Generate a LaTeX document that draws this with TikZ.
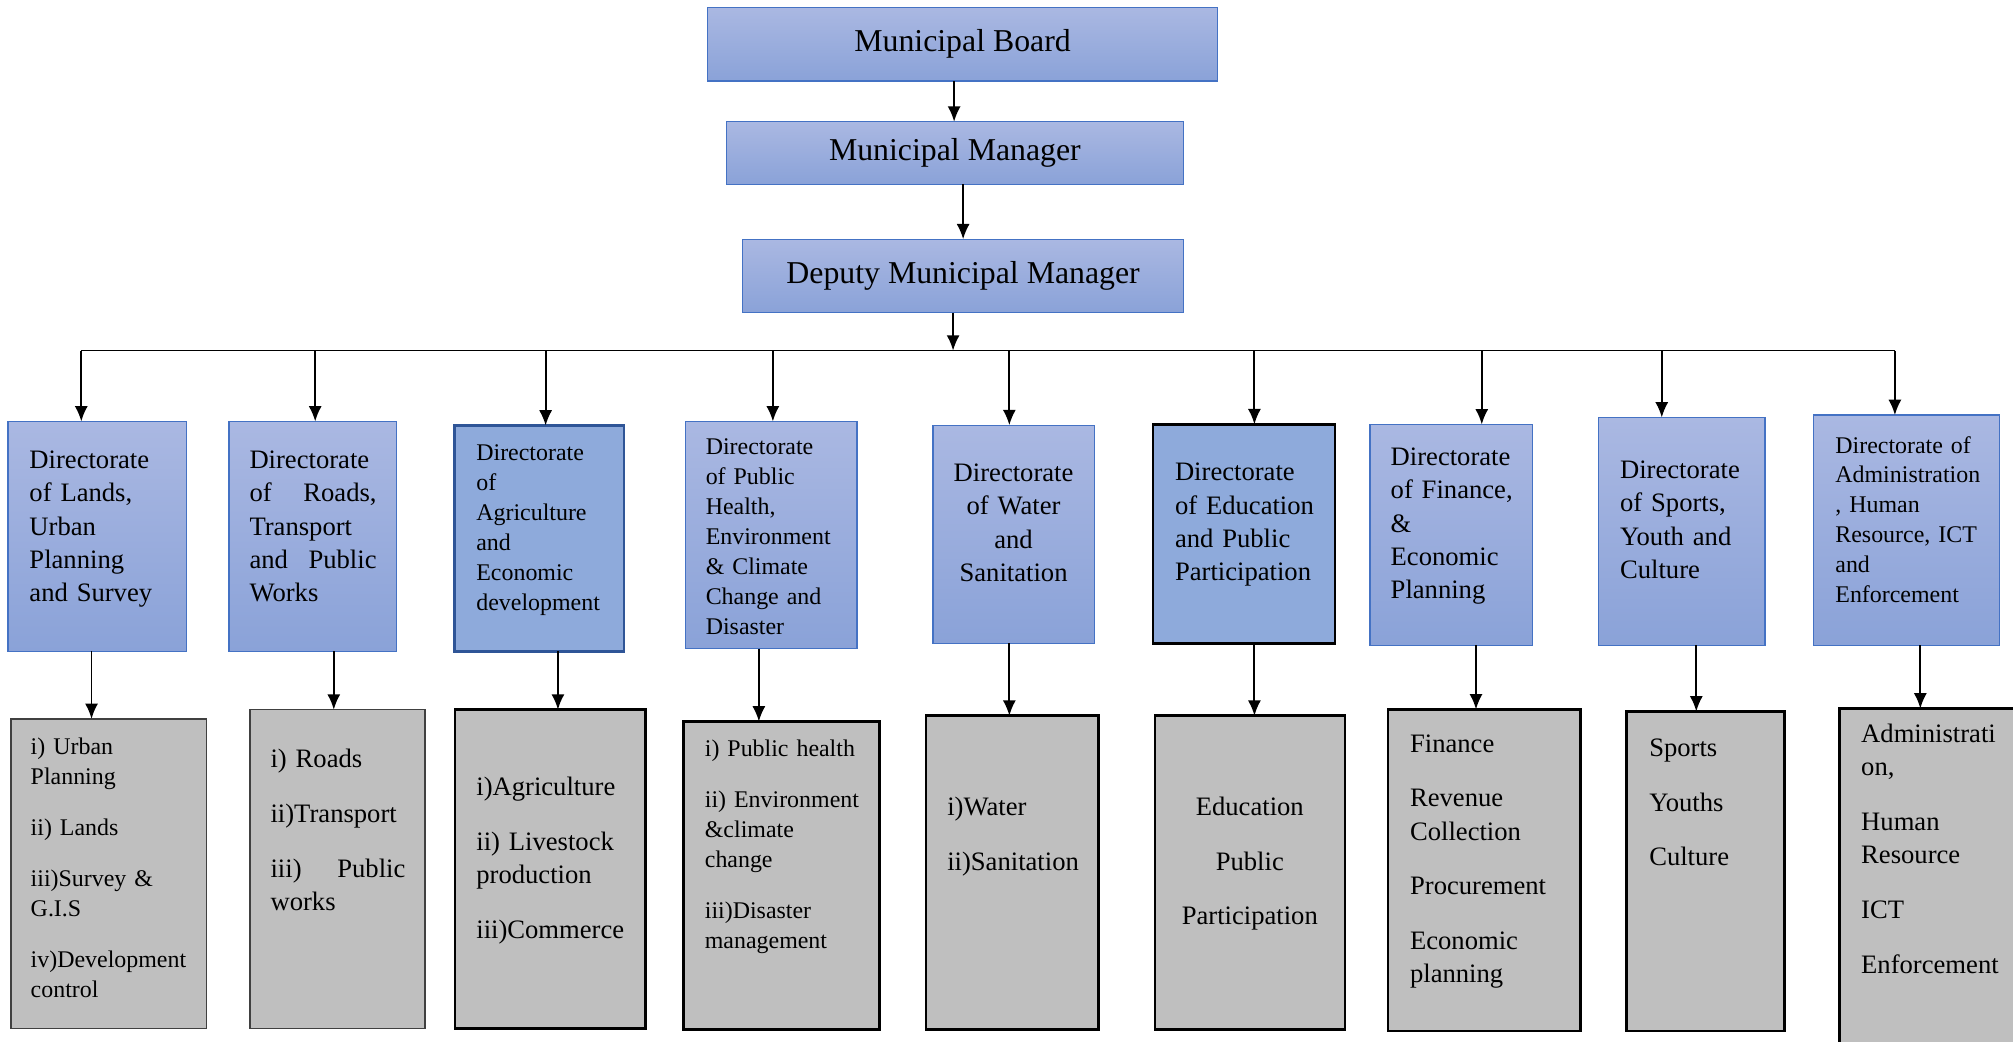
\documentclass[tikz,border=0pt]{standalone}
\usepackage{fontspec}
\setmainfont{Liberation Serif}
\usepackage{tikz}
\usetikzlibrary{arrows.meta}
\definecolor{dirtop}{HTML}{AAB8E2}
\definecolor{dirbot}{HTML}{8AA2D8}
\definecolor{dirline}{HTML}{4472C4}
\definecolor{dirflat}{HTML}{8EAADB}
\definecolor{navyline}{HTML}{2F5597}
\definecolor{subfill}{HTML}{BFBFBF}
\definecolor{subline}{HTML}{404040}
\tikzset{
	dirbox/.style={shape=rectangle, inner sep=0pt, outer sep=0pt, top color=dirtop, bottom color=dirbot, draw=dirline, line width=0.6pt},
	agribox/.style={shape=rectangle, inner sep=0pt, outer sep=0pt, fill=dirflat, draw=navyline, line width=1pt},
	edubox/.style={shape=rectangle, inner sep=0pt, outer sep=0pt, fill=dirflat, draw=black, line width=1.1pt},
	subbox/.style={shape=rectangle, inner sep=0pt, outer sep=0pt, fill=subfill, draw=black, line width=1.1pt},
	thinsub/.style={subbox, draw=subline, line width=0.6pt},
	bigtxt/.style={font=\fontsize{14.1}{17}\selectfont},
	txt/.style={inner sep=0pt, anchor=base west, text width=3cm, align=left, font=\fontsize{11.8}{14.8}\selectfont},
	smalltxt/.style={txt, font=\fontsize{10.6}{13.25}\selectfont},
	arr/.style={-{Latex[length=6.8pt,width=5.8pt]}, line width=0.85pt}
}

\begin{document}
\begin{tikzpicture}
				\useasboundingbox (0,0) rectangle (31.36,16.22);
				\clip (0,0) rectangle (31.36,16.22);
				% Top boxes:
				\node[dirbox, bigtxt, minimum width=7.94cm, minimum height=1.146cm] (board) at (14.995, 15.533) {Municipal Board};
				\node[dirbox, bigtxt, minimum width=7.12cm, minimum height=0.976cm] (manager) at (14.876, 13.836) {Municipal Manager};
				\node[dirbox, bigtxt, minimum width=6.864cm, minimum height=1.142cm] (deputy) at (15.004, 11.921) {Deputy Municipal Manager};
				\draw[arr] (board.south -| 14.864,0) -- (manager.north -| 14.864,0);
				\draw[arr] (manager.south -| 15.004,0) -- (deputy.north -| 15.004,0);
				\coordinate (bus) at (14.848, 10.758);
				\draw[arr] (deputy.south -| bus) -- (bus);
				% Directorates:
				\node[dirbox, minimum width=2.78cm, minimum height=3.582cm] (d1) at (1.516, 7.863) {};
				\node[dirbox, minimum width=2.608cm, minimum height=3.582cm] (d2) at (4.872, 7.863) {};
				\node[agribox, minimum width=2.64cm, minimum height=3.518cm] (d3) at (8.40, 7.831) {};
				\node[dirbox, minimum width=2.676cm, minimum height=3.538cm] (d4) at (12.014, 7.885) {};
				\node[dirbox, minimum width=2.518cm, minimum height=3.396cm] (d5) at (15.793, 7.898) {};
				\node[edubox, minimum width=2.836cm, minimum height=3.416cm] (d6) at (19.382, 7.902) {};
				\node[dirbox, minimum width=2.53cm, minimum height=3.44cm] (d7) at (22.605, 7.888) {};
				\node[dirbox, minimum width=2.596cm, minimum height=3.548cm] (d8) at (26.198, 7.942) {};
				\node[dirbox, minimum width=2.90cm, minimum height=3.586cm] (d9) at (29.704, 7.961) {};
				\node[txt] (td1) at (0.452, 8.924) {Directorate\\of Lands,\\Urban\\Planning\\and Survey};
				\node[txt, text width=1.98cm] (td2) at (3.88, 8.924) {Directorate\\of \hspace{\fill} Roads,\\Transport\\and \hspace{\fill} Public\\Works};
				\node[smalltxt] (td3) at (7.414, 9.04) {Directorate\\of\\Agriculture\\and\\Economic\\development};
				\node[smalltxt] (td4) at (10.988, 9.132) {Directorate\\of Public\\Health,\\Environment\\\& Climate\\Change and\\Disaster};
				\node[txt, anchor=base, align=center] (td5) at (15.79, 8.72) {Directorate\\of Water\\and\\Sanitation};
				\node[txt] (td6) at (18.298, 8.732) {Directorate\\of Education\\and Public\\Participation};
				\node[txt] (td7) at (21.658, 8.97) {Directorate\\of Finance,\\\&\\Economic\\Planning};
				\node[txt] (td8) at (25.232, 8.768) {Directorate\\of Sports,\\Youth and\\Culture};
				\node[smalltxt] (td9) at (28.586, 9.162) {Directorate of\\Administration\\, Human\\Resource, ICT\\and\\Enforcement};
				% Bus and arrows into directorates:
				\coordinate (b1) at (1.266, 10.758);
				\coordinate (b2) at (4.91, 10.758);
				\coordinate (b3) at (8.50, 10.758);
				\coordinate (b4) at (12.04, 10.758);
				\coordinate (b5) at (15.724, 10.758);
				\coordinate (b6) at (19.542, 10.758);
				\coordinate (b7) at (23.084, 10.758);
				\coordinate (b8) at (25.888, 10.758);
				\coordinate (b9) at (29.52, 10.758);
				\draw[line width=0.6pt] (b1) -- (b9);
				\draw[arr] (b1) -- (b1 |- d1.north);
				\draw[arr] (b2) -- (b2 |- d2.north);
				\draw[arr] (b3) -- (b3 |- d3.north);
				\draw[arr] (b4) -- (b4 |- d4.north);
				\draw[arr] (b5) -- (b5 |- d5.north);
				\draw[arr] (b6) -- (b6 |- d6.north);
				\draw[arr] (b7) -- (b7 |- d7.north);
				\draw[arr] (b8) -- (b8 |- d8.north);
				\draw[arr] (b9) -- (b9 |- d9.north);
				% Sections:
				\node[thinsub, minimum width=3.046cm, minimum height=4.826cm] (s1) at (1.697, 2.607) {};
				\node[thinsub, minimum width=2.726cm, minimum height=4.97cm] (s2) at (5.257, 2.679) {};
				\node[subbox, minimum width=2.97cm, minimum height=4.97cm] (s3) at (8.571, 2.679) {};
				\node[subbox, minimum width=3.052cm, minimum height=4.80cm] (s4) at (12.174, 2.58) {};
				\node[subbox, minimum width=2.69cm, minimum height=4.89cm] (s5) at (15.769, 2.625) {};
				\node[subbox, minimum width=2.962cm, minimum height=4.89cm] (s6) at (19.473, 2.625) {};
				\node[subbox, minimum width=3.00cm, minimum height=5.006cm] (s7) at (23.12, 2.665) {};
				\node[subbox, minimum width=2.464cm, minimum height=4.974cm] (s8) at (26.568, 2.649) {};
				\node[subbox, minimum width=3.742cm, minimum height=6.162cm] (s9) at (30.529, 2.101) {};
				\node[smalltxt] (ts1) at (0.472, 4.466) {i) Urban\\Planning\\[9.4pt]ii) Lands\\[9.4pt]iii)Survey \&\\G.I.S\\[9.4pt]iv)Development\\control};
				\node[txt, text width=2.10cm] (ts2) at (4.208, 4.256) {i) Roads\\[9.4pt]ii)Transport\\[9.4pt]iii) \hspace{\fill} Public\\works};
				\node[txt] (ts3) at (7.414, 3.82) {i)Agriculture\\[9.4pt]ii) Livestock\\production\\[9.4pt]iii)Commerce};
				\node[smalltxt] (ts4) at (10.974, 4.434) {i) Public health\\[9.4pt]ii) Environment\\\&climate\\change\\[9.4pt]iii)Disaster\\management};
				\node[txt] (ts5) at (14.75, 3.514) {i)Water\\[9.4pt]ii)Sanitation};
				\node[txt, anchor=base, align=center] (ts6) at (19.47, 3.514) {Education\\[9.4pt]Public\\[9.4pt]Participation};
				\node[txt] (ts7) at (21.96, 4.50) {Finance\\[9.4pt]Revenue\\Collection\\[9.4pt]Procurement\\[9.4pt]Economic\\planning};
				\node[txt] (ts8) at (25.686, 4.43) {Sports\\[9.4pt]Youths\\[9.4pt]Culture};
				\node[txt] (ts9) at (28.988, 4.652) {Administrati\\on,\\[9.4pt]Human\\Resource\\[9.4pt]ICT\\[9.4pt]Enforcement};
				\draw[arr] (d1.south -| 1.426,0) -- (s1.north -| 1.426,0);
				\draw[arr] (d2.south -| 5.20,0) -- (s2.north -| 5.20,0);
				\draw[arr] (d3.south -| 8.692,0) -- (s3.north -| 8.692,0);
				\draw[arr] (d4.south -| 11.822,0) -- (s4.north -| 11.822,0);
				\draw[arr] (d5.south -| 15.724,0) -- (s5.north -| 15.724,0);
				\draw[arr] (d6.south -| 19.542,0) -- (s6.north -| 19.542,0);
				\draw[arr] (d7.south -| 22.994,0) -- (s7.north -| 22.994,0);
				\draw[arr] (d8.south -| 26.426,0) -- (s8.north -| 26.426,0);
				\draw[arr] (d9.south -| 29.916,0) -- (s9.north -| 29.916,0);
\end{tikzpicture}
\end{document}
